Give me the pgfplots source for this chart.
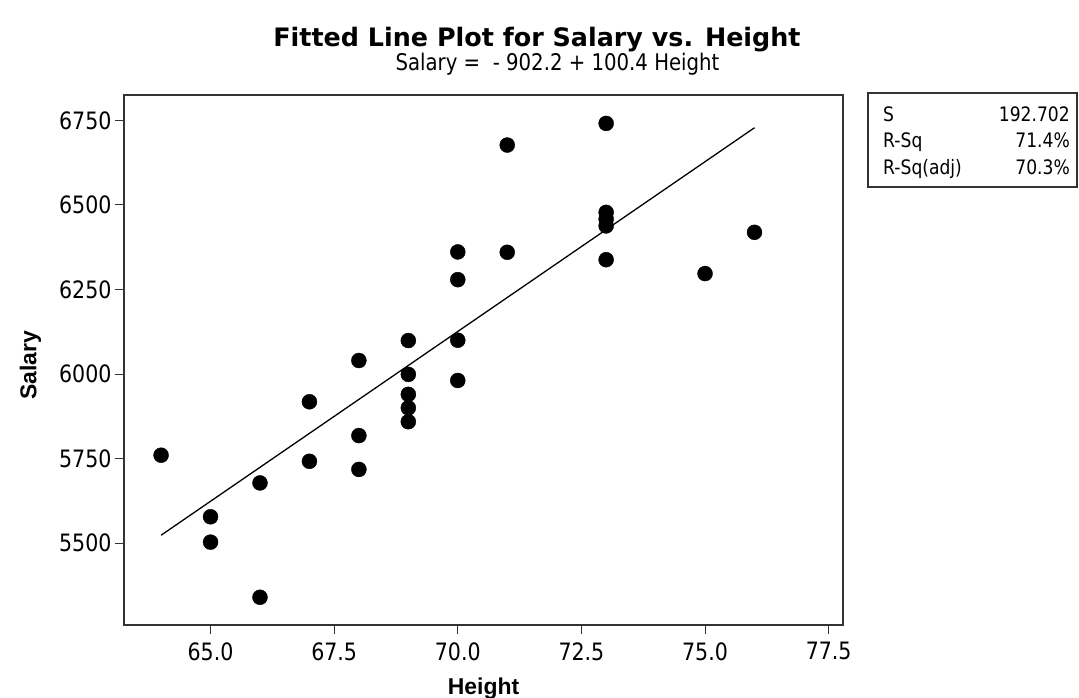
\documentclass[border=0pt]{standalone}
\usepackage{fontspec}
\setmainfont{DejaVu Sans}[FakeStretch=0.86]
\newfontfamily\titlefont{DejaVu Sans}
\newfontfamily\labfont{Liberation Sans}
\usepackage{pgfplots}
\pgfplotsset{compat=1.18}
\begin{document}
\begin{tikzpicture}
\useasboundingbox (-124bp,-73bp) rectangle (955bp,625bp);
\begin{axis}[
  at={(0,0)}, anchor=south west,
  scale only axis, width=719bp, height=530bp,
  xmin=63.25, xmax=77.79, ymin=5258, ymax=6825,
  xtick={65,67.5,70,72.5,75,77.5},
  ytick={5500,5750,6000,6250,6500,6750},
  xtick pos=bottom, ytick pos=left,
  tick align=outside, major tick length=9bp,
  every tick/.style={black!80, line width=1bp},
  axis line style={black!80, line width=1.5bp},
  /pgf/number format/assume math mode=true,
  xticklabel style={yshift=-5bp, /pgf/number format/.cd, fixed, fixed zerofill, precision=1},
  yticklabel style={/pgf/number format/.cd, fixed, set thousands separator={}},
  tick label style={font=\fontsize{24}{24}\selectfont},
  xlabel={Height}, ylabel={Salary},
  label style={font=\labfont\bfseries\fontsize{23}{23}\selectfont},
  xlabel style={at={(axis description cs:0.5,-0.132)}, anchor=base},
  ylabel style={at={(axis description cs:-0.122,0.49)}, anchor=base},
  title={Fitted Line Plot for Salary vs. Height},
  title style={font=\titlefont\bfseries\fontsize{25.5}{25.5}\selectfont, at={(axis description cs:0.5744,1.081)}, anchor=base},
  clip=false,
]
\addplot[only marks, mark=*, mark size=7.5bp, mark options={fill=black, draw=black}] coordinates {
(64,5760) (65,5578) (65,5503) (66,5678) (66,5340)
(67,5918) (67,5742) (68,6040) (68,5818) (68,5718)
(69,6099) (69,5999) (69,5940) (69,5900) (69,5859)
(70,6361) (70,6279) (70,6100) (70,5981)
(71,6677) (71,6360)
(73,6741) (73,6478) (73,6458) (73,6438) (73,6338)
(75,6297) (76,6419)
};
\addplot[black, line width=1.3bp] coordinates {(64,5523.4) (76,6728.2)};
\node[anchor=base, font=\fontsize{23}{23}\selectfont] at (axis description cs:0.6029,1.047) {Salary =\ \ - 902.2 + 100.4 Height};
\end{axis}
\draw[black!80, line width=1.2bp] (744bp,438bp) rectangle (953bp,532bp);
\begin{scope}[every node/.style={font=\fontsize{20}{20}\selectfont, inner sep=0pt}]
\node[anchor=base west] at (759bp,503.5bp) {S};
\node[anchor=base west] at (759bp,477.5bp) {R-Sq};
\node[anchor=base west] at (759bp,450.5bp) {R-Sq(adj)};
\node[anchor=base east] at (946bp,503.5bp) {192.702};
\node[anchor=base east] at (946bp,477.5bp) {71.4\%};
\node[anchor=base east] at (946bp,450.5bp) {70.3\%};
\end{scope}
\end{tikzpicture}
\end{document}
